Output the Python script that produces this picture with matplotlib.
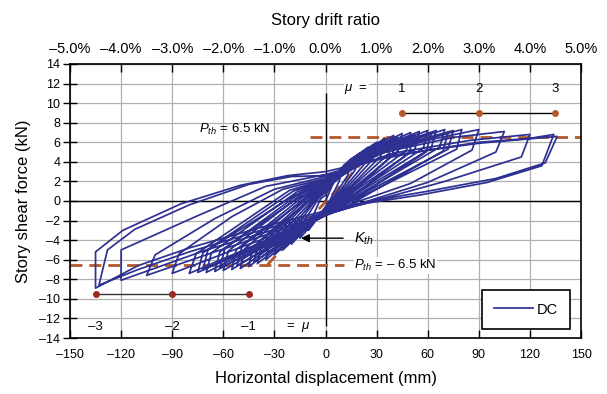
import matplotlib
matplotlib.use("Agg")
import matplotlib.pyplot as plt

plt.rcParams["font.family"] = ["Liberation Sans", "DejaVu Sans"]
plt.rcParams["mathtext.fontset"] = "custom"
plt.rcParams["mathtext.rm"] = "Liberation Sans"
plt.rcParams["mathtext.it"] = "Liberation Sans:italic"

# hysteresis loops of the DC specimen, (displacement mm, shear force kN)
loop_10 = [(0, 0.0), (5, 2.0), (10, 3.3), (8, 2.0), (3, 0.2), (-4, -1.6), (-10, -3.0), (-8, -1.8), (-3, 0.2), (0, 0.6)]
loop_15 = [(0, 0.6), (7, 2.8), (15, 4.2), (13, 2.6), (4, 0.2), (-6, -2.0), (-15, -3.8), (-13, -2.2), (-4, 0.3), (0, 0.9)]
loop_20 = [(0, 0.9), (9, 3.3), (20, 4.9), (17.5, 3.2), (5, 0.2), (-8, -2.2), (-20, -4.4), (-17.5, -2.7), (-5, 0.3), (0, 1.0)]
loop_25 = [(0, 1.0), (11, 3.7), (25, 5.5), (22.5, 3.7), (6, 0.3), (-10, -2.5), (-25, -5.0), (-22.5, -3.2), (-6, 0.2), (0, 1.1)]
loop_30 = [(0, 1.1), (13, 4.0), (30, 6.0), (27.5, 4.2), (7, 0.3), (-12, -2.7), (-30, -5.5), (-27.5, -3.6), (-7, 0.2), (0, 1.2)]
loop_35 = [(0, 1.2), (15, 4.3), (35, 6.4), (32.5, 4.6), (8, 0.3), (-14, -3.0), (-35, -6.0), (-32.5, -4.0), (-8, 0.3), (0, 1.3)]
loop_40 = [(0, 1.3), (17, 4.5), (40, 6.7), (37.5, 4.9), (9, 0.4), (-16, -3.1), (-40, -6.4), (-37.5, -4.4), (-9, 0.3), (0, 1.4)]
loop_40b = [(0, 1.0), (18, 4.2), (42, 6.5), (39, 4.6), (10, 0.0), (-17, -3.4), (-42, -6.2), (-39, -4.2), (-10, 0.0), (0, 1.2)]
loop_45 = [(0, 1.4), (19, 4.6), (45, 6.9), (42.5, 5.1), (10, 0.4), (-18, -3.2), (-45, -6.7), (-42.5, -4.7), (-10, 0.4), (0, 1.5)]
loop_50 = [(0, 1.5), (21, 4.7), (50, 7.0), (47.5, 5.2), (11, 0.4), (-20, -3.3), (-50, -6.9), (-47.5, -4.9), (-11, 0.5), (0, 1.6)]
loop_50b = [(0, 1.2), (22, 4.4), (52, 6.7), (49, 4.9), (12, 0.0), (-21, -3.6), (-52, -6.6), (-49, -4.6), (-12, 0.2), (0, 1.4)]
loop_55 = [(0, 1.6), (23, 4.8), (55, 7.1), (52.5, 5.3), (12, 0.4), (-22, -3.4), (-55, -7.0), (-52.5, -5.0), (-12, 0.6), (0, 1.7)]
loop_60 = [(0, 1.7), (25, 4.9), (60, 7.2), (57.5, 5.4), (13, 0.3), (-24, -3.4), (-60, -7.1), (-57, -5.1), (-14, 0.7), (0, 1.8)]
loop_60b = [(0, 1.4), (26, 4.6), (62, 6.9), (59, 5.0), (14, -0.1), (-25, -3.8), (-62, -6.8), (-59, -4.8), (-15, 0.4), (0, 1.6)]
loop_65 = [(0, 1.8), (27, 5.0), (65, 7.2), (62, 5.4), (14, 0.3), (-26, -3.5), (-65, -7.2), (-62, -5.2), (-15, 0.8), (0, 1.9)]
loop_70 = [(0, 1.9), (29, 5.0), (70, 7.3), (67, 5.5), (15, 0.2), (-28, -3.6), (-70, -7.3), (-67, -5.3), (-17, 0.9), (0, 2.0)]
loop_70b = [(0, 1.6), (30, 4.7), (72, 7.0), (69, 5.1), (16, -0.2), (-29, -3.9), (-72, -7.0), (-69, -5.0), (-18, 0.6), (0, 1.8)]
loop_75 = [(0, 2.0), (31, 5.1), (75, 7.2), (72, 5.3), (16, 0.2), (-30, -3.7), (-75, -7.3), (-72, -5.3), (-19, 1.0), (0, 2.1)]
loop_80 = [(0, 2.1), (33, 5.1), (80, 7.3), (77, 5.3), (18, 0.2), (-32, -3.8), (-80, -7.4), (-76, -5.4), (-21, 1.1), (0, 2.2)]
loop_90 = [(0, 2.2), (35, 5.1), (65, 6.4), (90, 7.3), (86, 5.2), (50, 1.8), (20, 0.0), (-20, -2.8), (-60, -5.4),
           (-90, -7.4), (-86, -5.4), (-55, -1.6), (-25, 1.2), (0, 2.3)]
loop_105 = [(0, 2.3), (35, 5.0), (75, 6.5), (105, 7.1), (100, 5.0), (60, 1.9), (25, 0.0), (-20, -2.6), (-65, -5.2),
            (-105, -7.6), (-100, -5.5), (-65, -1.8), (-30, 1.2), (0, 2.5)]
loop_120 = [(0, 2.5), (40, 4.9), (85, 6.2), (120, 6.8), (115, 4.5), (70, 2.0), (28, 0.0), (-20, -2.4), (-70, -5.0),
            (-120, -8.1), (-120, -5.0), (-75, -1.5), (-35, 1.5), (0, 2.7)]
loop_135 = [(0, 2.7), (40, 4.7), (90, 5.9), (136, 6.6), (129, 3.9), (100, 2.3), (60, 1.0), (30, 0.1), (0, -1.0),
            (-40, -2.8), (-80, -4.8), (-110, -6.6), (-135, -8.9), (-135, -5.2), (-119, -3.0), (-85, -0.3),
            (-50, 1.6), (-22, 2.6), (0, 3.0)]
loop_135b = [(0, 3.0), (30, 4.2), (60, 5.2), (90, 6.0), (120, 6.4), (134, 6.8), (127, 3.6), (95, 1.9), (55, 0.6),
             (25, -0.2), (0, -1.2), (-40, -3.1), (-80, -5.2), (-110, -7.0), (-133, -8.6), (-128, -5.0),
             (-112, -2.9), (-80, -0.4), (-45, 1.7), (-20, 2.5), (0, 2.6)]

# ductility marks and threshold levels
mu_pos_x = [45, 90, 135]
mu_pos_labels = ["1", "2", "3"]
mu_neg_x = [-135, -90, -45]
mu_neg_labels = ["\u20133", "\u20132", "\u20131"]
p_th = 6.5
kth_x = [-34, 35]
kth_y = [-6.5, 6.5]

disp_ticks = [-150, -120, -90, -60, -30, 0, 30, 60, 90, 120, 150]
disp_labels = ["\u2013150", "\u2013120", "\u201390", "\u201360", "\u201330", "0", "30", "60", "90", "120", "150"]
force_ticks = [-14, -12, -10, -8, -6, -4, -2, 0, 2, 4, 6, 8, 10, 12, 14]
force_labels = ["\u2013" + str(-v) if v < 0 else str(v) for v in force_ticks]
drift_labels = ["\u20135.0%", "\u20134.0%", "\u20133.0%", "\u20132.0%", "\u20131.0%", "0.0%",
                "1.0%", "2.0%", "3.0%", "4.0%", "5.0%"]

loops = [loop_10, loop_15, loop_20, loop_25, loop_30, loop_35, loop_40, loop_40b, loop_45, loop_50, loop_50b,
         loop_55, loop_60, loop_60b, loop_65, loop_70, loop_70b, loop_75, loop_80, loop_90, loop_105, loop_120,
         loop_135, loop_135b]
path = [p for lp in loops for p in lp]
xs = [p[0] for p in path]
ys = [p[1] for p in path]

fig = plt.figure(figsize=(6.07, 3.94), dpi=100)
ax = fig.add_axes([0.1153, 0.1421, 0.8419, 0.6955])

navy = "#2e3192"
brown = "#b5582b"

ax.set_xlim(-150, 150)
ax.set_ylim(-14, 14)
ax.set_xticks(disp_ticks)
ax.set_xticklabels(disp_labels, fontsize=9)
ax.set_yticks(force_ticks)
ax.set_yticklabels(force_labels, fontsize=9)
ax.grid(True, color="#b0b0b0", lw=0.9)
ax.set_axisbelow(True)
ax.tick_params(axis="x", direction="in", length=6, width=1, pad=8, top=True)
ax.tick_params(axis="y", direction="inout", length=10, width=1, pad=2, right=False)
for s in ax.spines.values():
    s.set_linewidth(1.2)

ax.axhline(0, color="black", lw=1)
ax.vlines(0, -12.8, 11, color="black", lw=1)

ax.plot(xs, ys, color=navy, lw=1.25, label="DC", zorder=3)

# threshold force and stiffness
ls = (0, (4.3, 2.5))
ax.plot([-9, 150], [p_th, p_th], color=brown, lw=2, linestyle=ls, zorder=2)
ax.plot([-150, 11], [-p_th, -p_th], color=brown, lw=2, linestyle=ls, zorder=2)
ax.plot(kth_x, kth_y, color=brown, lw=2, linestyle=ls, zorder=2)

ax.text(-74, 7.3, r"$P_{th}$ = 6.5 kN", fontsize=9.5, va="center", ha="left")
ax.text(17, -6.6, r"$P_{th}$ = " + "\u2013 6.5 kN", fontsize=9.5, va="center", ha="left",
        bbox=dict(facecolor="white", edgecolor="none", pad=0.5))
ax.text(17, -3.9, r"$K_{th}$", fontsize=10.5, va="center", ha="left")
ax.annotate("", xy=(-16, -3.8), xytext=(12, -3.8),
            arrowprops=dict(arrowstyle="-|>", color="black", lw=1, mutation_scale=12))

# ductility factor markers
ax.plot(mu_pos_x, [9] * 3, color="black", lw=1, zorder=4)
ax.plot(mu_pos_x, [9] * 3, "o", color=brown, ms=4, zorder=5)
ax.text(18, 11.4, r"$\mu$  =", fontsize=9.5, ha="center", va="center",
        bbox=dict(facecolor="white", edgecolor="none", pad=0.5))
for x, t in zip(mu_pos_x, mu_pos_labels):
    ax.text(x, 11.4, t, fontsize=9.5, ha="center", va="center")

ax.plot(mu_neg_x, [-9.5] * 3, color="#333333", lw=1, zorder=4)
ax.plot(mu_neg_x, [-9.5] * 3, "o", color="#9b2b22", ms=4, zorder=5)
for x, t in zip(mu_neg_x, mu_neg_labels):
    ax.text(x, -12.9, t, fontsize=9.5, ha="center", va="center")
ax.text(-16, -12.9, r"=  $\mu$", fontsize=9.5, ha="center", va="center")

ax.legend(loc="lower right", bbox_to_anchor=(0.978, 0.033), borderaxespad=0, fancybox=False,
          edgecolor="black", framealpha=1, fontsize=10.5, handlelength=2.7,
          borderpad=0.85, handletextpad=0.2).get_frame().set_linewidth(1.2)

ax.set_xlabel("Horizontal displacement (mm)", fontsize=12, labelpad=7)
ax.set_ylabel("Story shear force (kN)", fontsize=12, labelpad=6)

# drift ratio on top, storey height 3000 mm
top = ax.secondary_xaxis("top")
top.set_xticks(disp_ticks)
top.set_xticklabels(drift_labels, fontsize=10.5)
top.tick_params(direction="in", length=0, pad=6)
top.set_xlabel("Story drift ratio", fontsize=12, labelpad=12)

fig.savefig("out.png", dpi=100)
